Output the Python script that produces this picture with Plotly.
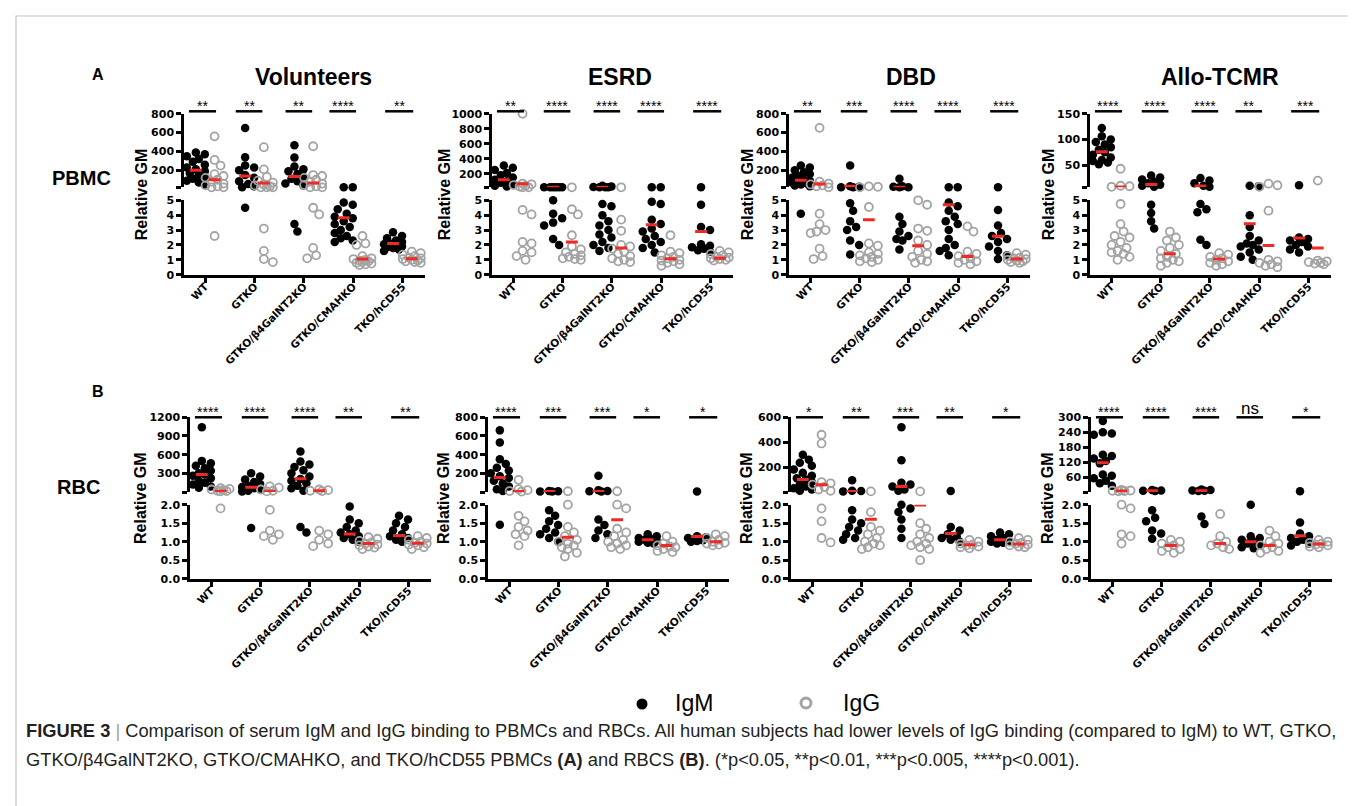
import math
import plotly.graph_objects as go

W, H = 1356, 806

categories = ["WT", "GTKO", "GTKO/β4GalNT2KO", "GTKO/CMAHKO", "TKO/hCD55"]
titles = ["Volunteers", "ESRD", "DBD", "Allo-TCMR"]
row_labels = ["PBMC", "RBC"]
panel_letters = ["A", "B"]

# ---------------- PBMC (row A) ----------------
pbmc_vol_igm = [
    [390, 370, 350, 320, 290, 260, 230, 210, 190, 170, 150, 130, 110, 90, 70, 50],
    [648, 338, 250, 230, 200, 150, 120, 85, 55, 30, 20, 4.5],
    [465, 335, 240, 210, 190, 160, 130, 110, 85, 60, 40, 3.4, 2.9],
    [20, 20, 4.85, 4.7, 4.4, 4.1, 3.9, 3.8, 3.6, 3.4, 3.2, 3.0, 2.8, 2.6, 2.45, 2.3, 2.2],
    [2.85, 2.6, 2.45, 2.3, 2.2, 2.1, 2.05, 2.0, 1.9, 1.85, 1.8, 1.7, 1.6],
]
pbmc_vol_igg = [
    [560, 310, 250, 160, 140, 120, 100, 80, 60, 40, 30, 20, 20, 2.6],
    [445, 210, 130, 90, 70, 50, 40, 30, 20, 20, 20, 3.1, 1.6, 1.05, 0.85],
    [455, 150, 140, 120, 100, 80, 60, 45, 30, 20, 20, 4.5, 4.05, 1.8, 1.3, 1.1],
    [2.6, 2.1, 2.0, 1.25, 1.1, 1.05, 1.0, 0.95, 0.9, 0.85, 0.8, 0.75, 0.7, 0.65],
    [1.55, 1.45, 1.35, 1.25, 1.15, 1.1, 1.05, 1.0, 0.95, 0.9, 0.85, 0.8],
]
pbmc_vol_igm_mid = [200, 140, 135, 3.83, 2.09]
pbmc_vol_igg_mid = [100, 66, 66, 1.05, 1.08]
pbmc_vol_sig = ["**", "**", "**", "****", "**"]

pbmc_esrd_igm = [
    [310, 280, 250, 210, 180, 150, 120, 100, 80, 60, 40, 30],
    [20, 20, 20, 20, 20, 20, 5.0, 4.1, 3.8, 3.5, 3.3, 2.4, 2.0],
    [40, 30, 25, 20, 20, 20, 4.75, 4.6, 4.0, 3.6, 3.3, 3.0, 2.7, 2.5, 2.2, 2.0, 1.8, 1.6],
    [20, 20, 4.9, 4.75, 3.7, 3.4, 3.1, 2.9, 2.6, 2.4, 2.2, 2.0, 1.8, 1.5],
    [20, 4.7, 3.2, 3.0, 2.05, 1.95, 1.85, 1.75, 1.65, 1.55],
]
pbmc_esrd_igg = [
    [1000, 70, 60, 50, 40, 30, 20, 20, 4.35, 4.05, 2.2, 2.1, 1.6, 1.5, 1.25, 1.0],
    [20, 4.4, 4.05, 2.65, 1.9, 1.7, 1.5, 1.4, 1.3, 1.2, 1.1, 1.05, 1.0],
    [20, 3.7, 2.95, 2.0, 1.9, 1.75, 1.55, 1.4, 1.25, 1.1, 1.0, 0.9, 0.85],
    [2.65, 1.55, 1.45, 1.3, 1.2, 1.1, 1.0, 0.95, 0.9, 0.8, 0.7, 0.6],
    [1.6, 1.5, 1.4, 1.3, 1.2, 1.15, 1.1, 1.05, 1.0, 0.95],
]
pbmc_esrd_igm_mid = [120, 20, 20, 3.36, 2.91]
pbmc_esrd_igg_mid = [67, 2.2, 1.79, 1.08, 1.1]
pbmc_esrd_sig = ["**", "****", "****", "****", "****"]

pbmc_dbd_igm = [
    [250, 230, 200, 180, 160, 140, 120, 100, 90, 80, 70, 60, 50, 40, 30, 4.1],
    [250, 30, 25, 20, 20, 4.8, 4.3, 3.6, 3.2, 3.0, 2.3, 2.0, 1.35],
    [110, 30, 25, 20, 20, 3.9, 3.4, 2.9, 2.6, 2.4, 2.3, 1.7],
    [20, 20, 4.85, 4.6, 4.3, 3.9, 3.6, 3.4, 3.0, 2.4, 2.0, 1.8, 1.6, 1.3],
    [20, 4.35, 3.3, 2.8, 2.6, 2.4, 2.2, 1.9, 1.6, 1.3, 1.05],
]
pbmc_dbd_igg = [
    [650, 80, 60, 50, 40, 30, 20, 4.1, 3.4, 3.0, 2.9, 2.8, 1.75, 1.25, 1.05],
    [30, 25, 20, 4.55, 2.1, 1.95, 1.5, 1.4, 1.3, 1.2, 1.1, 1.0, 0.9, 0.85],
    [5.0, 4.7, 3.1, 2.95, 2.3, 2.0, 1.6, 1.4, 1.2, 1.0, 0.9, 0.8],
    [3.25, 2.9, 1.55, 1.4, 1.25, 1.1, 1.0, 0.9, 0.8, 0.7],
    [1.45, 1.35, 1.25, 1.15, 1.1, 1.05, 1.0, 0.95, 0.9, 0.85, 0.8],
]
pbmc_dbd_igm_mid = [94, 30, 20, 4.7, 2.58]
pbmc_dbd_igg_mid = [55, 3.7, 1.95, 1.23, 1.05]
pbmc_dbd_sig = ["**", "***", "****", "****", "****"]

pbmc_allo_igm = [
    [122, 106, 100, 95, 90, 85, 80, 75, 70, 65, 60, 58, 55, 52],
    [30, 26, 22, 18, 15, 12, 10, 8, 4.7, 4.15, 3.6, 3.1],
    [25, 20, 15, 10, 8, 4.75, 4.4, 4.2, 2.35, 2.0],
    [10, 9, 4.0, 3.2, 2.6, 2.3, 2.1, 2.0, 1.9, 1.7, 1.5, 1.2, 1.0],
    [11, 2.5, 2.4, 2.3, 2.2, 2.0, 1.9, 1.7, 1.5],
]
pbmc_allo_igg = [
    [43, 10, 9, 8, 4.75, 3.4, 2.9, 2.6, 2.5, 2.2, 2.0, 1.8, 1.6, 1.5, 1.4, 1.2, 1.0],
    [2.9, 2.5, 2.3, 2.0, 1.8, 1.6, 1.4, 1.2, 1.1, 1.0, 0.9, 0.8, 0.6],
    [1.45, 1.35, 1.2, 1.1, 1.0, 0.9, 0.8, 0.7, 0.6],
    [14, 11, 8, 4.3, 1.0, 0.9, 0.8, 0.7, 0.6, 0.5],
    [20, 0.95, 0.9, 0.85, 0.8, 0.75, 0.7],
]
pbmc_allo_igm_mid = [76, 12.6, 9.4, 3.43, 2.47]
pbmc_allo_igg_mid = [7.5, 1.41, 1.05, 1.97, 1.79]
pbmc_allo_sig = ["****", "****", "****", "**", "***"]

# ---------------- RBC (row B) ----------------
rbc_vol_igm = [
    [1040, 500, 460, 420, 380, 340, 300, 280, 260, 220, 180, 150, 120, 90, 70],
    [300, 250, 200, 160, 130, 100, 80, 60, 40, 20, 10, 1.37],
    [650, 490, 440, 400, 350, 300, 250, 210, 180, 140, 100, 60, 20, 1.4, 1.25],
    [1.95, 1.6, 1.5, 1.4, 1.3, 1.25, 1.2, 1.15, 1.1, 1.05, 1.0],
    [1.7, 1.6, 1.5, 1.4, 1.3, 1.2, 1.15, 1.1, 1.05, 1.0],
]
rbc_vol_igg = [
    [60, 50, 40, 30, 20, 15, 10, 1.9],
    [90, 70, 40, 20, 10, 1.86, 1.3, 1.2, 1.15, 1.05],
    [40, 30, 20, 15, 1.3, 1.2, 1.05, 0.95, 0.88],
    [1.12, 1.08, 1.02, 0.98, 0.95, 0.92, 0.9, 0.87, 0.84, 0.8],
    [1.15, 1.1, 1.05, 1.0, 0.97, 0.95, 0.92, 0.9, 0.85, 0.8],
]
rbc_vol_igm_mid = [280, 75, 214, 1.21, 1.17]
rbc_vol_igg_mid = [11, 11, 21, 0.95, 0.96]
rbc_vol_sig = ["****", "****", "****", "**", "**"]

rbc_esrd_igm = [
    [660, 530, 350, 300, 260, 230, 200, 170, 150, 120, 90, 60, 30, 10, 1.46],
    [10, 8, 6, 5, 1.85, 1.7, 1.55, 1.45, 1.35, 1.25, 1.2, 1.1, 1.0],
    [175, 20, 10, 8, 6, 1.6, 1.45, 1.3, 1.2, 1.1],
    [1.2, 1.15, 1.1, 1.07, 1.05, 1.03, 1.0, 0.97, 0.95],
    [5, 1.15, 1.12, 1.1, 1.08, 1.06, 1.04, 1.02, 1.0],
]
rbc_esrd_igg = [
    [130, 30, 20, 10, 5, 1.7, 1.55, 1.4, 1.3, 1.2, 1.15, 0.9],
    [8, 2.0, 1.4, 1.25, 1.15, 1.05, 1.0, 0.95, 0.9, 0.85, 0.8, 0.7, 0.6],
    [8, 2.0, 1.9, 1.35, 1.25, 1.15, 1.05, 1.0, 0.95, 0.9, 0.85, 0.8],
    [1.15, 1.0, 0.95, 0.9, 0.87, 0.85, 0.8, 0.75, 0.72],
    [1.2, 1.15, 1.1, 1.05, 1.0, 0.97, 0.95, 0.92, 0.9],
]
rbc_esrd_igm_mid = [154, 5, 5, 1.05, 1.14]
rbc_esrd_igg_mid = [5, 1.12, 1.59, 0.9, 1.0]
rbc_esrd_sig = ["****", "***", "***", "*", "*"]

rbc_dbd_igm = [
    [300, 260, 235, 210, 180, 155, 130, 110, 100, 80, 60, 45, 30, 20, 10],
    [95, 10, 8, 5, 1.85, 1.6, 1.5, 1.4, 1.3, 1.2, 1.1, 1.05],
    [520, 255, 75, 60, 45, 20, 10, 2.0, 1.9, 1.8, 1.6, 1.35, 1.1],
    [8, 1.4, 1.3, 1.2, 1.15, 1.1, 1.05, 1.0],
    [1.25, 1.2, 1.15, 1.1, 1.05, 1.02, 1.0, 0.97, 0.95],
]
rbc_dbd_igg = [
    [460, 390, 80, 70, 60, 40, 20, 10, 1.9, 1.55, 1.1, 0.98],
    [5, 1.8, 1.4, 1.3, 1.2, 1.1, 1.0, 0.95, 0.9, 0.85, 0.8],
    [5, 1.5, 1.35, 1.2, 1.1, 1.0, 0.95, 0.9, 0.85, 0.8, 0.5],
    [1.05, 1.0, 0.95, 0.92, 0.9, 0.87, 0.85, 0.82],
    [1.1, 1.05, 1.0, 0.97, 0.95, 0.92, 0.9, 0.87, 0.85],
]
rbc_dbd_igm_mid = [101, 5, 45, 1.22, 1.05]
rbc_dbd_igg_mid = [59, 1.61, 1.99, 0.92, 0.94]
rbc_dbd_sig = ["*", "**", "***", "**", "*"]

rbc_allo_igm = [
    [285, 240, 235, 230, 150, 145, 135, 125, 115, 70, 65, 55, 45, 35, 25],
    [8, 6, 5, 4, 1.85, 1.65, 1.55, 1.3, 1.22, 1.08],
    [10, 8, 6, 5, 4, 1.68, 1.48],
    [2.0, 1.15, 1.1, 1.05, 1.0, 0.95, 0.9, 0.85, 0.82],
    [3, 1.52, 1.22, 1.15, 1.1, 1.05, 1.0, 0.95, 0.9],
]
rbc_allo_igg = [
    [8, 6, 5, 4, 3, 2.0, 1.9, 1.2, 1.15, 0.95],
    [1.05, 1.0, 0.95, 0.9, 0.85, 0.8, 0.75, 0.7],
    [1.75, 1.15, 1.0, 0.95, 0.9, 0.85, 0.8],
    [1.3, 1.15, 1.0, 0.95, 0.9, 0.85, 0.8, 0.75, 0.7],
    [1.05, 1.0, 0.97, 0.95, 0.92, 0.9, 0.87, 0.85],
]
rbc_allo_igm_mid = [117, 5, 5, 1.0, 1.16]
rbc_allo_igg_mid = [4, 0.9, 0.95, 0.9, 0.94]
rbc_allo_sig = ["****", "****", "****", "ns", "*"]

# axis scales (upper segment of each broken axis)
pbmc_upper_ranges = [[20, 800], [20, 1000], [20, 800], [7, 150]]
pbmc_upper_ticks = [[200, 400, 600, 800], [200, 400, 600, 800, 1000], [200, 400, 600, 800], [50, 100, 150]]
rbc_upper_ranges = [[0, 1200], [0, 800], [0, 600], [0, 300]]
rbc_upper_ticks = [[300, 600, 900, 1200], [200, 400, 600, 800], [200, 400, 600], [60, 120, 180, 240, 300]]
pbmc_lower_ticks = [0, 1, 2, 3, 4, 5]
pbmc_lower_labels = ["0", "1", "2", "3", "4", "5"]
rbc_lower_ticks = [0, 0.5, 1.0, 1.5, 2.0]
rbc_lower_labels = ["0.0", "0.5", "1.0", "1.5", "2.0"]

panels = [
    (pbmc_vol_igm, pbmc_vol_igg, pbmc_vol_igm_mid, pbmc_vol_igg_mid, pbmc_vol_sig),
    (pbmc_esrd_igm, pbmc_esrd_igg, pbmc_esrd_igm_mid, pbmc_esrd_igg_mid, pbmc_esrd_sig),
    (pbmc_dbd_igm, pbmc_dbd_igg, pbmc_dbd_igm_mid, pbmc_dbd_igg_mid, pbmc_dbd_sig),
    (pbmc_allo_igm, pbmc_allo_igg, pbmc_allo_igm_mid, pbmc_allo_igg_mid, pbmc_allo_sig),
    (rbc_vol_igm, rbc_vol_igg, rbc_vol_igm_mid, rbc_vol_igg_mid, rbc_vol_sig),
    (rbc_esrd_igm, rbc_esrd_igg, rbc_esrd_igm_mid, rbc_esrd_igg_mid, rbc_esrd_sig),
    (rbc_dbd_igm, rbc_dbd_igg, rbc_dbd_igm_mid, rbc_dbd_igg_mid, rbc_dbd_sig),
    (rbc_allo_igm, rbc_allo_igg, rbc_allo_igm_mid, rbc_allo_igg_mid, rbc_allo_sig),
]

# ---------------- geometry (pixels) ----------------
def pxx(x):
    return x / W

def pyy(y):
    return 1 - y / H

ROWS = [
    dict(up=(105.7, 179.3), low=(192.3, 266.7), lowmax=5, ticks=pbmc_lower_ticks,
         labels=pbmc_lower_labels, bar=103.3, xl=[176, 484, 781, 1082],
         ranges=pbmc_upper_ranges, uticks=pbmc_upper_ticks),
    dict(up=(409.3, 484.0), low=(496.7, 570.7), lowmax=2, ticks=rbc_lower_ticks,
         labels=rbc_lower_labels, bar=409.3, xl=[182, 480, 783, 1083],
         ranges=rbc_upper_ranges, uticks=rbc_upper_ticks),
]
XR = [-0.43, 4.46]
UNIT = 49.3
DOMW = (XR[1] - XR[0]) * UNIT
OFF = 0.19
BAR_L = [-0.33, -0.38, -0.37, -0.48, -0.35]
BAR_R = [0.22, 0.16, 0.17, 0.06, 0.22]
TITLE_X = [305, 612, 903, 1212]
YTITLE_X = [133, 436, 739, 1040]

IGM_C = "#000000"
IGG_C = "#A3A3A3"
RED = "#EE2A24"
TICKFONT = dict(family="DejaVu Sans", size=11, color="black", weight="bold")
CATFONT = dict(family="DejaVu Sans", size=10.5, color="black", weight="bold")


def swarm(ys, diam=7.6, step=3.0, maxoff=9.0):
    n = len(ys)
    cands = [0.0]
    k = 1
    while k * step <= maxoff + 1e-9:
        cands += [k * step, -k * step]
        k += 1
    order = sorted(range(n), key=lambda i: ys[i])
    placed = []
    offs = [0.0] * n
    for i in order:
        best, bestd = 0.0, -1.0
        for c in cands:
            dmin = min((math.hypot(c - ox, ys[i] - oy) for ox, oy in placed), default=1e9)
            if dmin >= diam:
                best = c
                break
            if dmin > bestd:
                bestd, best = dmin, c
        offs[i] = best
        placed.append((best, ys[i]))
    return offs


def note(text, x, y, size, family="Liberation Sans", xanchor="center", yanchor="middle",
         color="black", **kw):
    d = dict(text=text, xref="paper", yref="paper", x=pxx(x), y=pyy(y), showarrow=False,
             xanchor=xanchor, yanchor=yanchor, font=dict(family=family, size=size, color=color))
    d.update(kw)
    return d


fig = go.Figure()
layout = dict(width=W, height=H, margin=dict(l=0, r=0, t=0, b=0, autoexpand=False),
              paper_bgcolor="white", plot_bgcolor="white", showlegend=False)
annotations = []
shapes = []

for k, (igm, igg, igm_mid, igg_mid, sig) in enumerate(panels):
    r, c = divmod(k, 4)
    R = ROWS[r]
    lo, hi = R["ranges"][c]
    xn = k + 1
    xref = "x" if xn == 1 else f"x{xn}"
    yl_n, yu_n = 2 * k + 1, 2 * k + 2
    yl_ref = "y" if yl_n == 1 else f"y{yl_n}"
    yu_ref = f"y{yu_n}"
    x0 = R["xl"][c]
    up_ppu = (R["up"][1] - R["up"][0]) / (hi - lo)
    low_ppu = (R["low"][1] - R["low"][0]) / R["lowmax"]

    axis_common = dict(showline=True, linewidth=2.5, linecolor="black", ticks="outside",
                       ticklen=5, tickwidth=2.5, tickcolor="black", showgrid=False,
                       zeroline=False, tickfont=TICKFONT, fixedrange=True, automargin=False)
    layout["xaxis" if xn == 1 else f"xaxis{xn}"] = dict(
        axis_common, domain=[pxx(x0), pxx(x0 + DOMW)], range=XR, anchor=yl_ref,
        tickmode="array", tickvals=list(range(5)), ticktext=categories, tickangle=-45,
        ticklen=6, tickfont=CATFONT, ticklabelstandoff=-7)
    layout["yaxis" if yl_n == 1 else f"yaxis{yl_n}"] = dict(
        axis_common, domain=[pyy(R["low"][1]), pyy(R["low"][0])], range=[0, R["lowmax"]],
        anchor=xref, tickmode="array", tickvals=R["ticks"], ticktext=R["labels"])
    utv = [lo] + R["uticks"][c]
    layout[f"yaxis{yu_n}"] = dict(
        axis_common, domain=[pyy(R["up"][1]), pyy(R["up"][0])], range=[lo, hi],
        anchor=xref, tickmode="array", tickvals=utv,
        ticktext=[""] + [str(v) for v in R["uticks"][c]])

    for series, color, sx, isopen in ((igm, IGM_C, -OFF, False), (igg, IGG_C, OFF, True)):
        pts = {"low": ([], []), "up": ([], [])}
        for i, vals in enumerate(series):
            ys_px = []
            segs = []
            for v in vals:
                if v > R["lowmax"]:
                    segs.append("up")
                    ys_px.append(-(v - lo) * up_ppu - 1000)
                else:
                    segs.append("low")
                    ys_px.append(-v * low_ppu)
            offs = swarm(ys_px)
            for v, s, o in zip(vals, segs, offs):
                pts[s][0].append(i + sx + o / UNIT)
                pts[s][1].append(v)
        for s, yref in (("low", yl_ref), ("up", yu_ref)):
            xs, ys = pts[s]
            if not xs:
                continue
            if isopen:
                marker = dict(symbol="circle-open", size=8, color=color, line=dict(width=1.8, color=color))
            else:
                marker = dict(symbol="circle", size=8.5, color=color, line=dict(width=0))
            fig.add_trace(go.Scatter(x=xs, y=ys, mode="markers", marker=marker,
                                     xaxis=xref, yaxis=yref, cliponaxis=False,
                                     hoverinfo="skip"))
    # median lines
    for s_ref, cond in ((yl_ref, lambda v: v <= R["lowmax"]), (yu_ref, lambda v: v > R["lowmax"])):
        xs, ys = [], []
        for mids, sx in ((igm_mid, -OFF), (igg_mid, OFF)):
            for i, m in enumerate(mids):
                if cond(m):
                    xs += [i + sx - 0.12, i + sx + 0.12, None]
                    ys += [m, m, None]
        if xs:
            fig.add_trace(go.Scatter(x=xs, y=ys, mode="lines", line=dict(color=RED, width=3),
                                     xaxis=xref, yaxis=s_ref, cliponaxis=False,
                                     hoverinfo="skip"))
    # significance bars
    for i, s in enumerate(sig):
        shapes.append(dict(type="line", xref=xref, yref="paper", x0=i + BAR_L[i], x1=i + BAR_R[i],
                           y0=pyy(R["bar"]), y1=pyy(R["bar"]), line=dict(color="black", width=2.5)))
        xm = i + (BAR_L[i] + BAR_R[i]) / 2
        if s == "ns":
            annotations.append(dict(text=s, xref=xref, yref="paper", x=xm,
                                    y=pyy(R["bar"] - 9), showarrow=False, xanchor="center",
                                    yanchor="middle",
                                    font=dict(family="Liberation Sans", size=17, color="black")))
        else:
            annotations.append(dict(text=s, xref=xref, yref="paper", x=xm,
                                    y=pyy(R["bar"] - 5), showarrow=False, xanchor="center",
                                    yanchor="middle",
                                    font=dict(family="Liberation Sans", size=14, color="black")))
    # y title
    ymid = (R["up"][0] + R["low"][1]) / 2
    annotations.append(note("<b>Relative GM</b>", YTITLE_X[c], ymid, 16, textangle=-90))
    if r == 0:
        annotations.append(note(f"<b>{titles[c]}</b>", TITLE_X[c], 69, 23))

# row labels and panel letters
annotations.append(note(f"<b>{row_labels[0]}</b>", 73, 170, 20))
annotations.append(note(f"<b>{row_labels[1]}</b>", 70, 479, 20))
annotations.append(note(f"<b>{panel_letters[0]}</b>", 90, 67, 16))
annotations.append(note(f"<b>{panel_letters[1]}</b>", 90, 383, 16))

# legend (drawn manually)
shapes.append(dict(type="circle", xref="paper", yref="paper", x0=pxx(628.5), x1=pxx(639.5),
                   y0=pyy(701.5), y1=pyy(690.5), fillcolor="black", line=dict(width=0)))
shapes.append(dict(type="circle", xref="paper", yref="paper", x0=pxx(793), x1=pxx(803),
                   y0=pyy(700), y1=pyy(690), fillcolor="rgba(0,0,0,0)",
                   line=dict(color=IGG_C, width=3)))
annotations.append(note("IgM", 665, 695, 23, xanchor="left"))
annotations.append(note("IgG", 833, 695, 23, xanchor="left"))

# frame
shapes.append(dict(type="rect", xref="paper", yref="paper", x0=pxx(8), x1=pxx(1353),
                   y0=pyy(802), y1=pyy(8), line=dict(color="#C4C4C4", width=1.2),
                   fillcolor="rgba(0,0,0,0)", layer="below"))

# caption
cap1 = ("<b>FIGURE 3</b> <span style='color:#A0A0A0'>|</span> Comparison of serum IgM and IgG binding to "
        "PBMCs and RBCs. All human subjects had lower levels of IgG binding (compared to IgM) to WT, GTKO,")
cap2 = ("GTKO/β4GalNT2KO, GTKO/CMAHKO, and TKO/hCD55 PBMCs <b>(A)</b> and RBCS <b>(B)</b>. "
        "(*p&lt;0.05, **p&lt;0.01, ***p&lt;0.005, ****p&lt;0.001).")
annotations.append(note(cap1, 16, 722, 18.3, xanchor="left", color="#231F20"))
annotations.append(note(cap2, 16, 751, 18.3, xanchor="left", color="#231F20"))

layout["annotations"] = annotations
layout["shapes"] = shapes
fig.update_layout(**layout)
fig.write_html("out.html")
